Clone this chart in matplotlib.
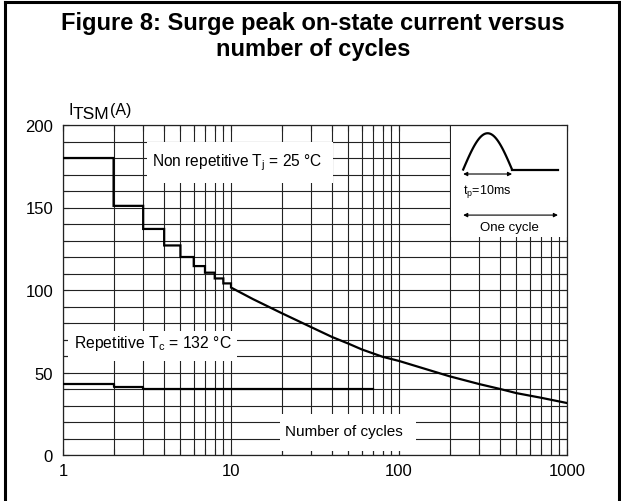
import numpy as np
import matplotlib
matplotlib.use("Agg")
import matplotlib.pyplot as plt
from matplotlib.patches import Rectangle
from matplotlib.lines import Line2D

plt.rcParams['font.family'] = ['Liberation Sans', 'DejaVu Sans']
plt.rcParams['mathtext.fontset'] = 'custom'
plt.rcParams['mathtext.rm'] = 'Liberation Sans'

# non repetitive curve: steps for 1..10 cycles, then smooth part
step_edges = [1, 2, 3, 4, 5, 6, 7, 8, 9, 10]
step_vals = [180, 151, 137, 127, 120, 114.5, 110.5, 107, 104]
curve_x = [10, 13.5, 20, 30, 40, 50, 60, 80, 100, 200, 300, 400, 500, 700, 1000]
curve_y = [101.5, 94.5, 86, 77.5, 71.5, 67.5, 64, 59.5, 57, 47.7, 43, 40, 37.5, 34.7, 31.5]

# repetitive curve
rep_edges = [1, 2, 3, 70]
rep_vals = [43, 41, 40]

y_ticks = [0, 50, 100, 150, 200]
x_ticks = [1, 10, 100, 1000]
x_labels = ['1', '10', '100', '1000']

fig = plt.figure(figsize=(6.21, 5.02), dpi=100)
ax = fig.add_axes([63/621, 46/502, 504/621, 330/502])
ax.set_xscale('log')
ax.set_xlim(1, 1000)
ax.set_ylim(0, 200)

# grid drawn by hand so the white label boxes can sit on top of it
grid_x = [m * 10**d for d in range(3) for m in range(1, 10)] + [1000]
grid_y = np.arange(0, 201, 10)
for gx in grid_x:
    ax.axvline(gx, color='#222222', lw=0.8, zorder=1)
for gy in grid_y:
    ax.axhline(gy, color='#222222', lw=0.8, zorder=1)

ax.set_xticks(x_ticks)
ax.set_xticklabels(x_labels)
ax.set_xticks(grid_x, minor=True)
ax.xaxis.set_minor_formatter(matplotlib.ticker.NullFormatter())
ax.set_yticks(y_ticks)
ax.set_yticks(grid_y, minor=True)
ax.tick_params(which='both', direction='in', top=True, right=True, length=4,
               width=0.8, color='#222222', labelsize=12)
ax.tick_params(axis='x', pad=5.5)
ax.tick_params(axis='y', pad=7.2)
for s in ax.spines.values():
    s.set_linewidth(0.9)
    s.set_color('#222222')

# white boxes behind the labels
boxes = [(0.1667, 0.824, 0.369, 0.125),
         (0.0099, 0.285, 0.335, 0.091),
         (0.4306, 0.012, 0.270, 0.112),
         (0.770, 0.661, 0.230, 0.339)]
for bx, by, bw, bh in boxes:
    ax.add_patch(Rectangle((bx, by), bw, bh, transform=ax.transAxes,
                           facecolor='white', edgecolor='none', zorder=2))

xs, ys = [], []
for i in range(len(step_vals)):
    xs += [step_edges[i], step_edges[i + 1]]
    ys += [step_vals[i], step_vals[i]]
xs += curve_x
ys += curve_y
ax.plot(xs, ys, color='black', lw=1.6, zorder=3, solid_joinstyle='miter')

rx, ry = [], []
for i in range(len(rep_vals)):
    rx += [rep_edges[i], rep_edges[i + 1]]
    ry += [rep_vals[i], rep_vals[i]]
ax.plot(rx, ry, color='black', lw=1.6, zorder=3)

ax.text(0.1766, 0.888, r'Non repetitive T$_\mathregular{j}$ = 25 °C', transform=ax.transAxes,
        fontsize=11.2, va='center', ha='left', zorder=4)
ax.text(0.0218, 0.342, r'Repetitive T$_\mathregular{c}$ = 132 °C', transform=ax.transAxes,
        fontsize=11.3, va='center', ha='left', zorder=4)
ax.text(0.44, 0.0736, 'Number of cycles', transform=ax.transAxes,
        fontsize=11, va='center', ha='left', zorder=4)

# pulse sketch in the top right
t = np.linspace(0, 1, 60)
px0, px1 = 0.794, 0.891
ax.plot(px0 + (px1 - px0) * t, 0.865 + 0.11 * np.sin(np.pi * t), color='black',
        lw=1.6, transform=ax.transAxes, zorder=4)
ax.plot([px1, 0.982], [0.863, 0.863], color='black', lw=1.6, transform=ax.transAxes, zorder=4)
ax.annotate('', xy=(px0, 0.8515), xytext=(px1, 0.8515), xycoords='axes fraction',
            arrowprops=dict(arrowstyle='<|-|>', color='black', lw=0.8,
                            mutation_scale=6, shrinkA=0, shrinkB=0), zorder=4)
ax.annotate('', xy=(px0, 0.727), xytext=(0.982, 0.727), xycoords='axes fraction',
            arrowprops=dict(arrowstyle='<|-|>', color='black', lw=0.8,
                            mutation_scale=6, shrinkA=0, shrinkB=0), zorder=4)
ax.text(px0, 0.80, r't$_\mathregular{p}$=10ms', transform=ax.transAxes, fontsize=9,
        va='center', ha='left', zorder=4)
ax.text(0.885, 0.691, 'One cycle', transform=ax.transAxes, fontsize=9.5,
        va='center', ha='center', zorder=4)

# y axis label I_TSM(A)
fig.text(68/621, 1 - 115/502, 'I', fontsize=11.5, va='baseline', ha='left')
fig.text(72.5/621, 1 - 119/502, 'TSM', fontsize=12.5, va='baseline', ha='left')
fig.text(110/621, 1 - 115/502, '(A)', fontsize=11.5, va='baseline', ha='left')

fig.text(313/621, 1 - 30/502, 'Figure 8: Surge peak on-state current versus',
         fontsize=17, fontweight='bold', ha='center', va='baseline')
fig.text(313/621, 1 - 56/502, 'number of cycles',
         fontsize=17, fontweight='bold', ha='center', va='baseline')

# outer frame
for x0, y0, x1, y1 in [(5, 3, 619, 3), (5, 3, 5, 502), (619, 3, 619, 502)]:
    fig.add_artist(Line2D([x0/621, x1/621], [1 - y0/502, 1 - y1/502], color='black', lw=2.2))

fig.savefig('out.png', dpi=100)
